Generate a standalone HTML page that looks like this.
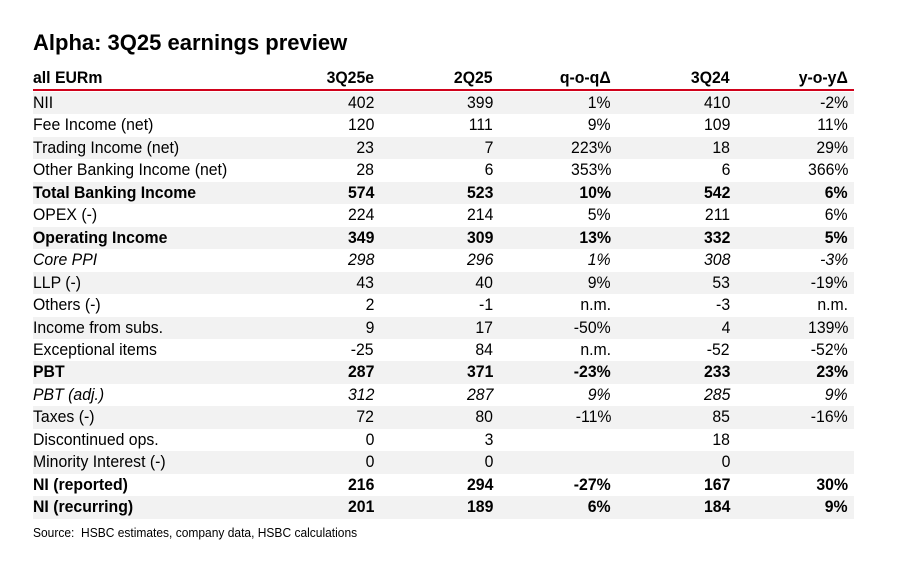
<!DOCTYPE html>
<html><head><meta charset="utf-8"><style>
body{margin:0;background:#fff;width:902px;height:572px;position:relative;overflow:hidden;font-family:"Liberation Sans",Arial,sans-serif;color:#000}
.t{position:absolute;font-size:17px;line-height:22px;white-space:nowrap;transform:scaleX(0.93)}
.l{transform-origin:left center}
.r{transform-origin:right center;text-align:right}
.row{position:absolute;left:33px;width:821px}
</style></head><body>
<div style="position:absolute;left:33px;top:30px;font-size:22px;font-weight:bold;white-space:nowrap">Alpha: 3Q25 earnings preview</div>
<div id="tbl"></div>
<div style="position:absolute;left:33px;top:526px;font-size:12.5px;white-space:nowrap;transform:scaleX(0.96);transform-origin:left center">Source:&nbsp; HSBC estimates, company data, HSBC calculations</div>
<script>
const headers=["all EURm","3Q25e","2Q25","q-o-qΔ","3Q24","y-o-yΔ"];
const labels=["NII","Fee Income (net)","Trading Income (net)","Other Banking Income (net)","Total Banking Income","OPEX (-)","Operating Income","Core PPI","LLP (-)","Others (-)","Income from subs.","Exceptional items","PBT","PBT (adj.)","Taxes (-)","Discontinued ops.","Minority Interest (-)","NI (reported)","NI (recurring)"];
const q325=["402","120","23","28","574","224","349","298","43","2","9","-25","287","312","72","0","0","216","201"];
const q225=["399","111","7","6","523","214","309","296","40","-1","17","84","371","287","80","3","0","294","189"];
const qoq=["1%","9%","223%","353%","10%","5%","13%","1%","9%","n.m.","-50%","n.m.","-23%","9%","-11%","","","-27%","6%"];
const q324=["410","109","18","6","542","211","332","308","53","-3","4","-52","233","285","85","18","0","167","184"];
const yoy=["-2%","11%","29%","366%","6%","6%","5%","-3%","-19%","n.m.","139%","-52%","23%","9%","-16%","","","30%","9%"];
const boldRows=["Total Banking Income","Operating Income","PBT","NI (reported)","NI (recurring)"];
const italicRows=["Core PPI","PBT (adj.)"];
const rights=[374,493,611,730,848];
const top0=92,rh=22.45;
const tbl=document.getElementById('tbl');
function txt(s,x,y,right,bold,ital,name){
  const d=document.createElement('div');
  d.className='t '+(right?'r':'l');
  
  
  d.textContent=s;
  d.style.top=y+'px';
  if(right){d.style.right=(902-x)+'px';}else{d.style.left=x+'px';}
  if(bold)d.style.fontWeight='bold';
  if(ital)d.style.fontStyle='italic';
  tbl.appendChild(d);
}
headers.forEach((h,i)=>txt(h,i?rights[i-1]:33,67,i>0,true,false,'header-cell'));
const line=document.createElement('div');


line.style.cssText='position:absolute;left:33px;width:821px;top:89px;height:2px;background:#d0021b';
tbl.appendChild(line);
const cols=[q325,q225,qoq,q324,yoy];
labels.forEach((lab,r)=>{
  const y=top0+r*rh;
  const bg=document.createElement('div');
  bg.className='row';
  
  
  bg.style.top=y+'px';bg.style.height=rh+'px';
  bg.style.background=r%2==0?'#f2f2f2':'#fff';
  tbl.appendChild(bg);
  const b=boldRows.includes(lab),it=italicRows.includes(lab);
  txt(lab,33,y,false,b,it,'row-label');
  cols.forEach((c,i)=>{ if(c[r]!=='') txt(c[r],rights[i],y,true,b,it,'value-cell'); });
});
</script>
</body></html>
